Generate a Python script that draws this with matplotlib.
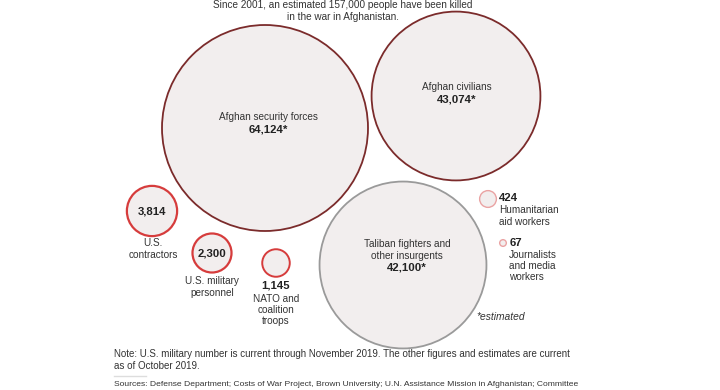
#!/usr/bin/env python3
# -*- coding: utf-8 -*-

import numpy as np
import matplotlib
matplotlib.use("Agg")
import matplotlib.pyplot as plt
from matplotlib.patches import Circle

# Данные: число погибших по группам
groups = ["Afghan security forces", "Afghan civilians", "Taliban fighters and\nother insurgents",
          "U.S.\ncontractors", "U.S. military\npersonnel", "NATO and\ncoalition\ntroops",
          "Humanitarian\naid workers", "Journalists\nand media\nworkers"]
deaths = [64124, 43074, 42100, 3814, 2300, 1145, 424, 67]
value_labels = ["64,124*", "43,074*", "42,100*", "3,814", "2,300", "1,145", "424", "67"]

# Раскладка (центры кругов в пикселях)
cx = [265, 456, 403, 152, 212, 276, 488, 503]
cy = [128, 96, 265, 211, 253, 263, 199, 243]
edges = ["#7b2b2b", "#7b2b2b", "#9a9a9a", "#d63c3c", "#d63c3c", "#d63c3c", "#eaa3a3", "#eaa3a3"]
widths = [1.3, 1.3, 1.3, 1.6, 1.6, 1.4, 1.0, 1.0]

# Позиции подписей: (x, y, выравнивание) для названия и для числа
name_pos = [(268, 117, "center"), (457, 87, "center"), (407, 250, "center"),
            (153, 249, "center"), (212, 287, "center"), (276, 310, "center"),
            (499, 216, "left"), (509, 266, "left")]
num_pos = [(268, 130, "center"), (457, 100, "center"), (407, 267, "center"),
           (152, 211, "center"), (212, 254, "center"), (276, 285, "center"),
           (499, 198, "left"), (510, 243, "left")]

FILL = "#f2eeee"
TXT = "#333333"
plt.rcParams['font.family'] = ['Liberation Sans Narrow', 'Liberation Sans', 'DejaVu Sans']

fig = plt.figure(figsize=(7.2, 3.9), dpi=100)
ax = fig.add_axes([0, 0, 1, 1])
ax.set_xlim(0, 720)
ax.set_ylim(390, 0)
ax.set_aspect("equal")
ax.axis("off")

# радиус пропорционален корню из значения (площадь ~ значение)
scale = 103 / np.sqrt(max(deaths))
radii = [scale * np.sqrt(v) for v in deaths]

for i in range(len(deaths)):
    ax.add_patch(Circle((cx[i], cy[i]), radii[i], facecolor=FILL,
                        edgecolor=edges[i], linewidth=widths[i]))
    x, y, ha = name_pos[i]
    ax.text(x, y, groups[i], ha=ha, va="center", fontsize=7.2,
            color=TXT, linespacing=1.15)
    x, y, ha = num_pos[i]
    ax.text(x, y, value_labels[i], ha=ha, va="center", fontsize=8.2,
            fontweight="bold", color="#222222")

ax.text(476, 317, "*estimated", ha="left", va="center", fontsize=7.4, style="italic", color=TXT)

# заголовок и примечания
ax.text(343, 11, "Since 2001, an estimated 157,000 people have been killed\nin the war in Afghanistan.",
        ha="center", va="center", fontsize=7.2, color=TXT, linespacing=1.2)
ax.text(114, 360, "Note: U.S. military number is current through November 2019. The other figures and estimates are current\nas of October 2019.",
        ha="left", va="center", fontsize=7.0, color=TXT, linespacing=1.25)
ax.plot([114, 146], [376, 376], color="#dddddd", linewidth=1)
ax.text(114, 384, "Sources: Defense Department; Costs of War Project, Brown University; U.N. Assistance Mission in Afghanistan; Committee",
        ha="left", va="center", fontsize=6.1, color=TXT)

fig.savefig("out.png", dpi=100, facecolor="white")
